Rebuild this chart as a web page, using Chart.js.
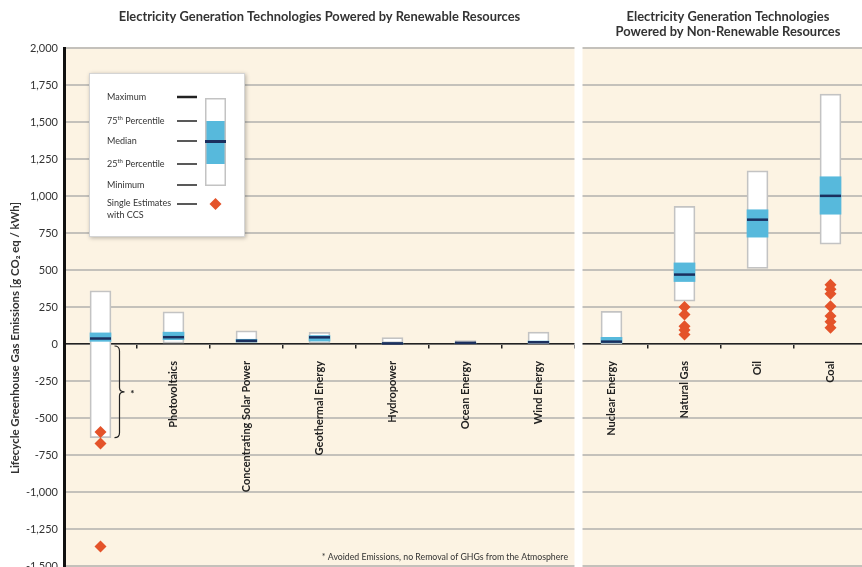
<!DOCTYPE html>
<html>
<head>
<meta charset="utf-8">
<script src="https://cdn.jsdelivr.net/npm/chart.js@4.4.0/dist/chart.umd.min.js"></script>
<style>
    html, body { margin: 0; padding: 0; background: #fff; overflow: hidden; }
    #wrap { width: 880px; height: 579px; }
</style>
</head>
<body>
<div id="wrap"><canvas id="ghgChart" width="880" height="579"></canvas></div>
<script>
// technologies, first 7 renewable, last 4 non-renewable
const categories = ['Biopower', 'Photovoltaics', 'Concentrating Solar Power', 'Geothermal Energy',
    'Hydropower', 'Ocean Energy', 'Wind Energy', 'Nuclear Energy', 'Natural Gas', 'Oil', 'Coal'];
const renewableCount = 7;

// g CO2eq / kWh
const minimum      = [-633,   5,  7,  6,  0,  2,  2,   1, 290,  510,  675];
const percentile25 = [  18,  29, 14, 20,  3,  6,  8,   8, 422,  722,  877];
const median       = [  37,  46, 22, 45,  4,  8, 12,  16, 469,  840, 1001];
const percentile75 = [  75,  80, 32, 57,  7,  9, 20,  45, 548,  907, 1130];
const maximum      = [ 360, 217, 89, 79, 43, 23, 81, 220, 930, 1170, 1689];

// single estimates with CCS
const ccsBiopower   = [-594, -673, -1368];
const ccsNaturalGas = [250, 200, 120, 95, 65];
const ccsCoal       = [400, 370, 340, 255, 190, 150, 110];

const yMin = -1500;
const yMax = 2000;
const yStep = 250;

const leftTitle = 'Electricity Generation Technologies Powered by Renewable Resources';
const rightTitle = ['Electricity Generation Technologies', 'Powered by Non-Renewable Resources'];
const yTitle = 'Lifecycle Greenhouse Gas Emissions [g CO\u2082 eq / kWh]';
const footnote = '* Avoided Emissions, no Removal of GHGs from the Atmosphere';

const cream = '#fcf3e3';
const gridGray = '#c4c1bb';
const boxBlue = '#57b9dc';
const navy = '#1b2f5e';
const ccsOrange = '#e4532a';
const textDark = '#2b2b2b';

Chart.defaults.font.family = 'Lato, "Open Sans", sans-serif';
Chart.defaults.color = textDark;

function ccsPoints(name, values) {
    return values.map(v => ({x: name, y: v}));
}

function drawDiamond(ctx, x, y, r) {
    ctx.beginPath();
    ctx.moveTo(x, y - r);
    ctx.lineTo(x + r, y);
    ctx.lineTo(x, y + r);
    ctx.lineTo(x - r, y);
    ctx.closePath();
    ctx.fill();
}

function drawLegendBox(ctx, left, top) {
    ctx.save();
    ctx.shadowColor = 'rgba(0,0,0,0.28)';
    ctx.shadowBlur = 4;
    ctx.shadowOffsetX = 1;
    ctx.shadowOffsetY = 1;
    ctx.fillStyle = '#fff';
    ctx.fillRect(left, top, 156, 164);
    ctx.restore();

    ctx.save();
    ctx.strokeStyle = '#d4d4d4';
    ctx.lineWidth = 1;
    ctx.strokeRect(left + 0.5, top + 0.5, 155, 163);

    ctx.fillStyle = '#333';
    ctx.textBaseline = 'middle';
    ctx.textAlign = 'left';
    ctx.font = '9px Lato, sans-serif';
    const tx = left + 18;
    ctx.fillText('Maximum', tx, top + 24);
    ctx.fillText('Median', tx, top + 68);
    ctx.fillText('Minimum', tx, top + 112);
    ctx.fillText('Single Estimates', tx, top + 130);
    ctx.fillText('with CCS', tx, top + 142);

    // 75th / 25th with superscript
    [['75', top + 48], ['25', top + 91]].forEach(([num, ty]) => {
        ctx.font = '9px Lato, sans-serif';
        ctx.fillText(num, tx, ty);
        let w = ctx.measureText(num).width;
        ctx.font = '6px Lato, sans-serif';
        ctx.fillText('th', tx + w, ty - 3);
        w += ctx.measureText('th').width;
        ctx.font = '9px Lato, sans-serif';
        ctx.fillText(' Percentile', tx + w, ty);
    });

    // pointer lines
    ctx.strokeStyle = '#222';
    [[24, 2.5], [48, 1.5], [68, 1.5], [91, 1.5], [112, 1.5], [131, 1.5]].forEach(([dy, lw]) => {
        ctx.lineWidth = lw;
        ctx.beginPath();
        ctx.moveTo(left + 88, top + dy);
        ctx.lineTo(left + 108, top + dy);
        ctx.stroke();
    });

    // sample box
    const bx = left + 116;
    ctx.fillStyle = '#fff';
    ctx.fillRect(bx, top + 25, 21, 88);
    ctx.fillStyle = boxBlue;
    ctx.fillRect(bx, top + 48, 21, 43);
    ctx.strokeStyle = '#c3c3c3';
    ctx.lineWidth = 1.5;
    ctx.strokeRect(bx + 0.75, top + 25.75, 19.5, 86.5);
    ctx.fillStyle = navy;
    ctx.fillRect(bx, top + 67, 21, 3);

    ctx.fillStyle = ccsOrange;
    drawDiamond(ctx, bx + 10.5, top + 131, 6);
    ctx.restore();
}

const panelDecor = {
    id: 'panelDecor',
    beforeDraw(chart) {
        const {ctx, chartArea} = chart;
        ctx.save();
        ctx.fillStyle = cream;
        ctx.fillRect(chartArea.left, chartArea.top, chartArea.right - chartArea.left, chartArea.bottom - chartArea.top + 2);
        ctx.restore();
    },
    beforeDatasetsDraw(chart) {
        // white gap between the two panels
        const {ctx, chartArea} = chart;
        const split = chart.scales.x.getPixelForValue(renewableCount - 0.5);
        ctx.save();
        ctx.fillStyle = '#fff';
        ctx.fillRect(split - 0.5, chartArea.top - 2, 8, chartArea.bottom - chartArea.top + 6);
        ctx.restore();
    },
    afterDatasetsDraw(chart) {
        const {ctx, chartArea} = chart;
        const xs = chart.scales.x;
        const ys = chart.scales.y;
        const split = xs.getPixelForValue(renewableCount - 0.5);

        // brace for avoided emissions of biopower
        const xb = xs.getPixelForValue(0) + 19;
        const y0 = ys.getPixelForValue(0) + 2;
        const y1 = ys.getPixelForValue(minimum[0]);
        const ym = (y0 + y1) / 2;
        ctx.save();
        ctx.strokeStyle = '#222';
        ctx.lineWidth = 1.2;
        ctx.beginPath();
        ctx.moveTo(xb - 5, y0);
        ctx.quadraticCurveTo(xb, y0, xb, y0 + 5);
        ctx.lineTo(xb, ym - 4);
        ctx.quadraticCurveTo(xb, ym, xb + 5, ym);
        ctx.quadraticCurveTo(xb, ym, xb, ym + 4);
        ctx.lineTo(xb, y1 - 5);
        ctx.quadraticCurveTo(xb, y1, xb - 5, y1);
        ctx.stroke();
        ctx.fillStyle = '#222';
        ctx.font = 'bold 10px Lato, sans-serif';
        ctx.textAlign = 'center';
        ctx.textBaseline = 'middle';
        ctx.fillText('*', xb + 13, ym + 2);

        // footnote
        ctx.font = '8.75px Lato, sans-serif';
        ctx.textAlign = 'right';
        ctx.fillStyle = '#333';
        ctx.fillText(footnote, split - 7, chartArea.bottom - 9);
        ctx.restore();

        drawLegendBox(ctx, chartArea.left + 25, chartArea.top + 25);
    },
    afterDraw(chart) {
        const {ctx, chartArea} = chart;
        const split = chart.scales.x.getPixelForValue(renewableCount - 0.5);
        ctx.save();
        ctx.fillStyle = '#333';
        ctx.font = 'bold 12.9px Lato, sans-serif';
        ctx.textAlign = 'center';
        ctx.textBaseline = 'middle';
        ctx.fillText(leftTitle, (chartArea.left + split) / 2, 17);
        ctx.fillText(rightTitle[0], split + 153, 17);
        ctx.fillText(rightTitle[1], split + 153, 32);

        // y axis title
        ctx.font = 'bold 11.4px Lato, sans-serif';
        ctx.translate(15, 338);
        ctx.rotate(-Math.PI / 2);
        ctx.fillText(yTitle, 0, 0);
        ctx.restore();
    }
};

const ctx = document.getElementById('ghgChart');
new Chart(ctx, {
    type: 'bar',
    data: {
        labels: categories,
        datasets: [
            {
                label: 'Minimum - Maximum',
                data: minimum.map((v, i) => [v, maximum[i]]),
                backgroundColor: '#fff',
                borderColor: '#c3c3c3',
                borderWidth: 1.75,
                borderSkipped: false,
                barThickness: 21,
                grouped: false,
                order: 4
            },
            {
                label: '25th - 75th Percentile',
                data: percentile25.map((v, i) => [v, percentile75[i]]),
                backgroundColor: boxBlue,
                borderWidth: 0,
                barThickness: 21,
                grouped: false,
                order: 3
            },
            {
                type: 'line',
                label: 'Median',
                data: median,
                showLine: false,
                pointStyle: 'line',
                pointRadius: 10.5,
                pointBorderWidth: 2.5,
                pointBorderColor: navy,
                pointBackgroundColor: navy,
                order: 2
            },
            {
                type: 'line',
                label: 'Single Estimates with CCS',
                data: [].concat(
                    ccsPoints('Biopower', ccsBiopower),
                    ccsPoints('Natural Gas', ccsNaturalGas),
                    ccsPoints('Coal', ccsCoal)
                ),
                showLine: false,
                pointStyle: 'rectRot',
                pointRadius: 6,
                pointBorderWidth: 0,
                pointBackgroundColor: ccsOrange,
                pointBorderColor: ccsOrange,
                order: 1
            }
        ]
    },
    options: {
        responsive: false,
        animation: false,
        layout: {padding: {left: 0, right: 7, top: 48, bottom: 0}},
        plugins: {
            legend: {display: false},
            tooltip: {enabled: false},
            title: {display: false}
        },
        scales: {
            x: {
                position: {y: 0},
                offset: true,
                grid: {
                    offset: true,
                    drawOnChartArea: false,
                    drawTicks: true,
                    tickLength: 4,
                    color: '#222',
                    lineWidth: 1.5
                },
                border: {display: true, color: '#222', width: 1.5},
                ticks: {
                    autoSkip: false,
                    minRotation: 90,
                    maxRotation: 90,
                    padding: 13,
                    color: '#222',
                    font: {size: 11, weight: 'bold'}
                }
            },
            y: {
                min: yMin,
                max: yMax,
                grid: {
                    drawTicks: false,
                    lineWidth: 2,
                    color: gridGray
                },
                border: {display: true, color: '#111', width: 3},
                ticks: {
                    stepSize: yStep,
                    maxTicksLimit: 20,
                    padding: 6,
                    color: '#333',
                    font: {size: 11},
                    callback: v => v.toLocaleString('en-US')
                },
                afterFit(scale) {
                    scale.width = 64;
                }
            }
        }
    },
    plugins: [panelDecor]
});
</script>
</body>
</html>
